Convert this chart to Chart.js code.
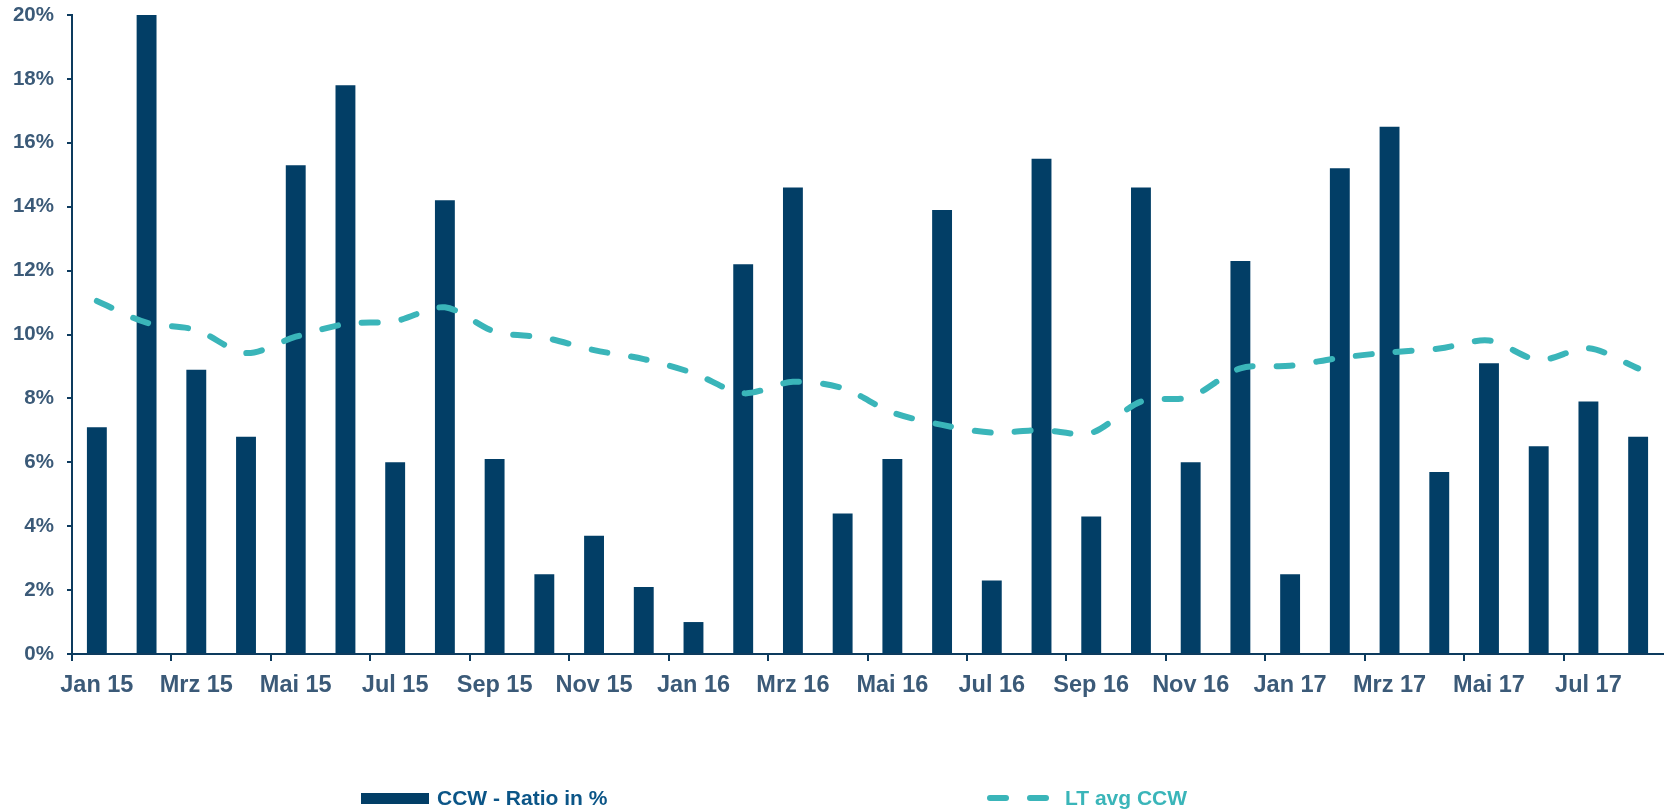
<!DOCTYPE html>
<html>
<head>
<meta charset="utf-8">
<script src="https://cdn.jsdelivr.net/npm/chart.js@4"></script>
<style>
  html, body { margin: 0; padding: 0; background: #fff; }
  #wrap { position: relative; width: 1669px; height: 809px; }
  #chart { position: absolute; left: 0; top: 0; }
  .lg { position: absolute; font-family: "Liberation Sans", Arial, sans-serif; font-weight: bold; font-size: 21px; line-height: 21px; white-space: nowrap; }
  .box { position: absolute; left: 361px; top: 793px; width: 68px; height: 11px; background: #023e66; }
  .dash { position: absolute; top: 795px; width: 22px; height: 6px; border-radius: 3px; background: #3ab5b9; }
</style>
</head>
<body>
<div id="wrap">
  <canvas id="chart" width="1669" height="809"></canvas>
  <div class="box"></div>
  <div class="lg" style="left:437px; top:787px; color:#0b5587;">CCW - Ratio in %</div>
  <div class="dash" style="left:987px;"></div>
  <div class="dash" style="left:1027px;"></div>
  <div class="lg" style="left:1065px; top:787px; color:#3ab5b9;">LT avg CCW</div>
</div>
<script>
// months Jan 15 .. Aug 17
const months = [
  "Jan 15", "Feb 15", "Mrz 15", "Apr 15", "Mai 15", "Jun 15", "Jul 15", "Aug 15", "Sep 15", "Okt 15", "Nov 15", "Dez 15",
  "Jan 16", "Feb 16", "Mrz 16", "Apr 16", "Mai 16", "Jun 16", "Jul 16", "Aug 16", "Sep 16", "Okt 16", "Nov 16", "Dez 16",
  "Jan 17", "Feb 17", "Mrz 17", "Apr 17", "Mai 17", "Jun 17", "Jul 17", "Aug 17"
];

const ccwRatio = [
  7.1, 20.0, 8.9, 6.8, 15.3, 17.8, 6.0, 14.2, 6.1, 2.5, 3.7, 2.1,
  1.0, 12.2, 14.6, 4.4, 6.1, 13.9, 2.3, 15.5, 4.3, 14.6, 6.0, 12.3,
  2.5, 15.2, 16.5, 5.7, 9.1, 6.5, 7.9, 6.8
];

const ltAvg = [
  11.05, 10.37, 10.14, 9.42, 9.93, 10.33, 10.42, 10.85, 10.09, 9.9, 9.51, 9.23,
  8.79, 8.16, 8.52, 8.32, 7.56, 7.17, 6.93, 7.01, 6.92, 7.9, 8.05, 8.94,
  9.02, 9.27, 9.44, 9.56, 9.81, 9.2, 9.57, 8.94
];

const yTicks = [0, 2, 4, 6, 8, 10, 12, 14, 16, 18, 20];

const axisColor = "#0d3b5e";
const labelColor = "#3b5a78";
const fontFamily = "'Liberation Sans', Arial, sans-serif";

new Chart(document.getElementById("chart"), {
  type: "bar",
  data: {
    labels: months,
    datasets: [
      {
        type: "line",
        label: "LT avg CCW",
        data: ltAvg,
        borderColor: "#3ab5b9",
        borderWidth: 6,
        borderDash: [16, 24],
        borderCapStyle: "round",
        pointRadius: 0,
        tension: 0.3,
        fill: false,
        order: 0
      },
      {
        label: "CCW - Ratio in %",
        data: ccwRatio,
        backgroundColor: "#023e66",
        categoryPercentage: 1,
        barPercentage: 0.4,
        order: 1
      }
    ]
  },
  options: {
    responsive: false,
    animation: false,
    layout: { padding: { top: 15, left: 0, right: 6, bottom: 0 } },
    plugins: { legend: { display: false }, tooltip: { enabled: false } },
    scales: {
      x: {
        offset: true,
        afterFit: s => { s.height = 155; },
        border: { display: true, color: axisColor, width: 2 },
        grid: {
          offset: true,
          drawOnChartArea: false,
          drawTicks: true,
          tickLength: 7,
          lineWidth: 2,
          tickColor: ctx => (ctx.index % 2 === 0 ? axisColor : "rgba(0,0,0,0)")
        },
        ticks: {
          autoSkip: false,
          maxRotation: 0,
          padding: 10,
          color: labelColor,
          font: { family: fontFamily, size: 23.5, weight: "bold" },
          callback: (v, i) => (i % 2 === 0 ? months[i] : "")
        }
      },
      y: {
        min: 0,
        max: 20,
        afterFit: s => { s.width = 72; s.paddingTop = 0; s.paddingBottom = 0; },
        afterBuildTicks: s => { s.ticks = yTicks.map(v => ({ value: v })); },
        border: { display: true, color: axisColor, width: 2 },
        grid: {
          drawOnChartArea: false,
          drawTicks: true,
          tickLength: 5,
          lineWidth: 2,
          tickColor: axisColor
        },
        ticks: {
          padding: 13,
          color: labelColor,
          font: { family: fontFamily, size: 20.5, weight: "bold" },
          callback: v => v + "%"
        }
      }
    }
  }
});
</script>
</body>
</html>
